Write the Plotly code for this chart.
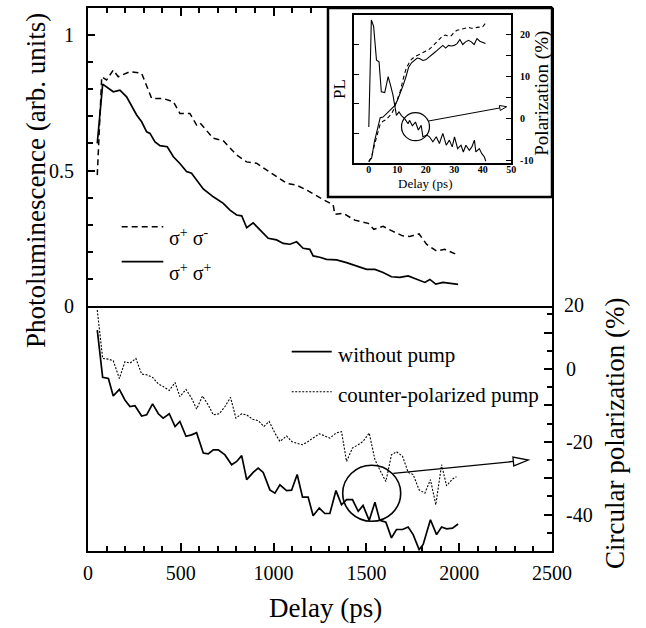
import math
import plotly.graph_objects as go

# ---------------- data ----------------
# top panel: photoluminescence (arb. units) vs delay (ps)
pl_cross_t = [50, 74, 100, 136, 163, 226, 289, 343, 405, 460, 495, 549, 585, 603, 675, 729,
              801, 855, 908, 962, 1016, 1070, 1124, 1178, 1249, 1285, 1321, 1330, 1375, 1438,
              1474, 1510, 1540, 1590, 1635, 1695, 1734, 1784, 1824, 1878, 1922, 1976, 1994]
pl_cross_v = [0.483, 0.846, 0.834, 0.871, 0.846, 0.865, 0.859, 0.766, 0.766, 0.754, 0.711, 0.711,
              0.668, 0.676, 0.619, 0.610, 0.557, 0.532, 0.527, 0.502, 0.477, 0.453, 0.446, 0.428,
              0.400, 0.385, 0.373, 0.338, 0.342, 0.317, 0.312, 0.305, 0.283, 0.294, 0.278, 0.259,
              0.257, 0.266, 0.228, 0.203, 0.209, 0.192, 0.188]

pl_co_t = [50, 79, 136, 172, 208, 235, 262, 289, 316, 334, 361, 388, 427, 460, 495, 531, 558,
           585, 621, 675, 729, 765, 801, 828, 855, 890, 926, 971, 1016, 1052, 1088, 1124, 1159,
           1195, 1213, 1249, 1285, 1339, 1393, 1447, 1501, 1546, 1590, 1635, 1680, 1725, 1770,
           1815, 1842, 1874, 1913, 1949, 1994]
pl_co_v = [0.60, 0.819, 0.791, 0.797, 0.772, 0.738, 0.705, 0.680, 0.643, 0.637, 0.606, 0.592,
           0.588, 0.551, 0.526, 0.496, 0.490, 0.465, 0.432, 0.403, 0.379, 0.354, 0.336, 0.333,
           0.289, 0.307, 0.280, 0.250, 0.244, 0.231, 0.228, 0.237, 0.213, 0.209, 0.185, 0.180,
           0.172, 0.170, 0.160, 0.148, 0.135, 0.135, 0.124, 0.108, 0.106, 0.111, 0.098, 0.087,
           0.098, 0.081, 0.087, 0.084, 0.080]

# bottom panel: circular polarization (%) vs delay (ps)
pol_nopump_t = [50, 79, 110, 136, 169, 199, 226, 253, 289, 316, 348, 379, 405, 438, 469, 495,
                528, 558, 585, 621, 648, 675, 702, 738, 774, 801, 828, 855, 890, 917, 944, 980,
                1007, 1034, 1070, 1097, 1127, 1156, 1186, 1213, 1246, 1276, 1303, 1336, 1366,
                1393, 1425, 1456, 1482, 1515, 1546, 1572, 1605, 1635, 1662, 1695, 1725, 1752,
                1784, 1806, 1845, 1878, 1905, 1932, 1964, 1994]
pol_nopump_v = [10.7, -2.3, -2.6, -7.4, -5.6, -8.5, -10.3, -10.1, -12.9, -12.6, -9.6, -12.3,
                -13.5, -12.3, -15.8, -14.4, -18.5, -18.1, -17.5, -23.1, -23.3, -22.2, -22.2,
                -23.6, -26.3, -25.4, -23.8, -30.4, -28.4, -27.2, -28.4, -33.2, -34.1, -31.8,
                -33.4, -33.3, -29.0, -35.2, -35.2, -40.3, -38.2, -39.7, -39.7, -33.4, -37.3,
                -35.9, -35.9, -39.1, -37.5, -41.6, -36.6, -41.6, -42.1, -46.4, -44.1, -44.1,
                -43.4, -45.5, -49.6, -48.2, -41.4, -45.5, -43.4, -43.9, -43.7, -42.6]

pol_counter_t = [50, 79, 110, 136, 169, 199, 226, 258, 289, 316, 348, 379, 405, 438, 469, 495,
                 528, 558, 585, 617, 648, 675, 707, 738, 768, 797, 828, 855, 887, 917, 948, 976,
                 1007, 1034, 1070, 1097, 1124, 1156, 1186, 1213, 1246, 1276, 1303, 1336, 1366,
                 1393, 1425, 1456, 1482, 1515, 1546, 1572, 1605, 1635, 1662, 1695, 1725, 1752,
                 1784, 1815, 1845, 1874, 1905, 1932, 1964, 1985]
pol_counter_v = [16.2, 2.9, 2.7, 2.3, -2.6, 2.0, 1.6, 2.9, -1.4, -1.6, -2.3, -4.1, -4.8, -5.9,
                 -3.7, -7.6, -5.6, -8.0, -11.0, -7.4, -9.9, -12.6, -12.3, -10.3, -7.8, -13.5,
                 -12.3, -12.6, -13.8, -14.2, -15.8, -14.4, -17.6, -19.9, -18.4, -19.9, -20.4,
                 -20.8, -19.9, -19.0, -17.8, -18.4, -19.0, -17.6, -17.2, -25.4, -21.7, -20.8,
                 -19.9, -17.6, -24.9, -27.7, -30.9, -23.6, -22.7, -24.0, -28.4, -29.0, -33.2,
                 -34.1, -30.4, -37.3, -26.3, -32.1, -30.2, -29.6]

# inset: PL (left axis) and polarization (right axis) vs delay (ps)
ins_pl_t = list(range(0, 42))
ins_pl_co = [0.03, 0.15, 0.72, 1.18, 1.52, 1.54, 1.63, 1.71, 1.80, 1.92, 2.09, 2.32, 2.60, 2.89,
             3.23, 3.38, 3.46, 3.54, 3.52, 3.46, 3.48, 3.55, 3.63, 3.72, 3.80, 3.88, 3.97, 3.88,
             3.97, 3.95, 3.97, 4.03, 4.17, 4.00, 4.09, 4.14, 4.09, 4.00, 4.20, 4.11, 4.06, 4.03]
ins_pl_cross = [0.03, 0.20, 0.60, 1.00, 1.30, 1.40, 1.45, 1.55, 1.65, 1.85, 2.10, 2.40, 2.80,
                3.15, 3.35, 3.50, 3.58, 3.63, 3.68, 3.72, 3.76, 3.82, 3.90, 4.00, 4.10, 4.20,
                4.30, 4.32, 4.28, 4.30, 4.42, 4.48, 4.50, 4.52, 4.55, 4.58, 4.55, 4.55, 4.58,
                4.58, 4.60, 4.72]
ins_pol_t = [0, 0.9, 1.7, 2.7, 3.6, 4.4, 5.6, 6.8, 7.6, 8.5, 9.7, 10.6, 11.4, 12.6, 13.8, 14.3,
             15.3, 16.4, 17.4, 18.4, 19.0, 20.4, 21.3, 22.5, 23.7, 24.8, 26.0, 27.2, 28.3, 29.3,
             30.1, 31.2, 32.4, 33.2, 34.1, 35.3, 36.2, 37.1, 37.6, 38.8, 39.7, 40.6, 41.1]
ins_pol_v = [-2.0, 23.4, 21.9, 13.9, 13.5, 6.4, 6.2, 10.0, 8.0, 5.6, 0.8, 1.6, 0.8, 0.0, -1.2,
             -0.4, -1.7, -0.8, -2.7, -1.6, -4.3, -3.9, -4.3, -5.5, -4.3, -5.9, -3.5, -6.3, -5.1,
             -6.7, -4.3, -7.1, -6.3, -7.9, -6.3, -7.5, -6.7, -5.1, -7.9, -7.1, -8.3, -9.1, -10.1]

# tick labels
x_ticks = [0, 500, 1000, 1500, 2000, 2500]
x_ticklabels = ["0", "500", "1000", "1500", "2000", "2500"]
pl_ticks = [0, 0.5, 1]
pl_ticklabels = ["0", "0.5", "1"]
pol_ticks = [-40, -30, -20, -10, 0, 10, 20, 30, 40]
pol_ticklabels = ["-40", "", "-20", "", "0", "", "", "", ""]
ins_x_ticks = [0, 10, 20, 30, 40, 50]
ins_pol_ticks = [-10, -5, 0, 5, 10, 15, 20]
ins_pol_ticklabels = ["-10", "", "0", "", "10", "", "20"]

# ---------------- layout helpers ----------------
W, H = 646, 628
FONT = "Liberation Serif, Times New Roman, serif"


def px(x):
    return x / W


def py(y):
    return 1 - y / H


L, R, T, B, MID = 88, 552, 8, 551, 306
IL, IR, IT, IB = 353.7, 511.3, 15, 162.5
POL_PX = 3.64  # pixels per percent on the main right axis

fig = go.Figure()

blk = "black"
fig.add_trace(go.Scatter(x=pl_cross_t, y=pl_cross_v, xaxis="x2", yaxis="y", mode="lines",
                         line=dict(color=blk, width=1.5, dash="6px,4px")))
fig.add_trace(go.Scatter(x=pl_co_t, y=pl_co_v, xaxis="x2", yaxis="y", mode="lines",
                         line=dict(color=blk, width=1.7)))
fig.add_trace(go.Scatter(x=pol_counter_t, y=pol_counter_v, xaxis="x", yaxis="y2", mode="lines",
                         line=dict(color=blk, width=1.1, dash="2px,1.5px")))
fig.add_trace(go.Scatter(x=pol_nopump_t, y=pol_nopump_v, xaxis="x", yaxis="y2", mode="lines",
                         line=dict(color=blk, width=1.7)))
fig.add_trace(go.Scatter(x=ins_pl_t, y=ins_pl_cross, xaxis="x3", yaxis="y3", mode="lines",
                         line=dict(color=blk, width=1.1, dash="4px,3px")))
fig.add_trace(go.Scatter(x=ins_pl_t, y=ins_pl_co, xaxis="x3", yaxis="y3", mode="lines",
                         line=dict(color=blk, width=1.1)))
fig.add_trace(go.Scatter(x=ins_pol_t, y=ins_pol_v, xaxis="x3", yaxis="y4", mode="lines",
                         line=dict(color=blk, width=1.1)))

tickfont = dict(family=FONT, size=20, color=blk)
ins_tickfont = dict(family=FONT, size=10, color=blk, weight="bold")

minor_x_top = [v for v in range(100, 1300, 100) if v % 500]
minor_x_bot = [v for v in range(100, 2500, 100) if v % 500]
minor_pl = [round(0.1 * k, 1) for k in range(1, 11) if k not in (5, 10)]
minor_pol = list(range(-45, 20, 10))

fig.update_layout(
    width=W, height=H, margin=dict(l=0, r=0, t=0, b=0, pad=0, autoexpand=False),
    paper_bgcolor="white", plot_bgcolor="white", showlegend=False,
    font=dict(family=FONT, color=blk),
    xaxis=dict(domain=[px(L), px(R)], range=[0, 2500], anchor="y2", side="bottom",
               automargin=False,
               showline=True, linecolor=blk, linewidth=2, showgrid=False, zeroline=False,
               tickmode="array", tickvals=x_ticks, ticktext=x_ticklabels,
               ticks="inside", ticklen=8, tickwidth=1.5, tickcolor=blk, tickfont=tickfont,
               ticklabelstandoff=3,
               minor=dict(tickvals=minor_x_bot, ticks="inside", ticklen=5, tickwidth=1.5,
                          tickcolor=blk, showgrid=False)),
    xaxis2=dict(domain=[px(L), px(R)], range=[0, 2500], anchor="y", side="top",
                automargin=False,
                showline=True, mirror=True, linecolor=blk, linewidth=2, showgrid=False,
                zeroline=False, showticklabels=False,
                tickmode="array", tickvals=[500, 1000], ticks="inside", ticklen=8,
                tickwidth=1.5, tickcolor=blk,
                minor=dict(tickvals=minor_x_top, ticks="inside", ticklen=5, tickwidth=1.5,
                           tickcolor=blk, showgrid=False)),
    yaxis=dict(domain=[py(MID), py(T)], range=[0, 1.1], anchor="x2", side="left",
               automargin=False,
               showline=True, linecolor=blk, linewidth=2, showgrid=False, zeroline=False,
               tickmode="array", tickvals=pl_ticks, ticktext=pl_ticklabels,
               ticks="inside", ticklen=7, tickwidth=1.5, tickcolor=blk, tickfont=tickfont,
               ticklabelstandoff=8,
               minor=dict(tickvals=minor_pl, ticks="inside", ticklen=5, tickwidth=1.5,
                          tickcolor=blk, showgrid=False)),
    yaxis2=dict(domain=[py(B), py(T)], range=[-50, -50 + (B - T) / POL_PX], anchor="x",
                side="right", automargin=False,
                showline=True, mirror=True, linecolor=blk, linewidth=2,
                showgrid=False, zeroline=False,
                tickmode="array", tickvals=pol_ticks, ticktext=pol_ticklabels,
                ticks="inside", ticklen=8, tickwidth=1.5, tickcolor=blk, tickfont=tickfont,
                ticklabelstandoff=8,
                minor=dict(tickvals=minor_pol, ticks="inside", ticklen=5, tickwidth=1.5,
                           tickcolor=blk, showgrid=False)),
    xaxis3=dict(domain=[px(IL), px(IR)], range=[-5.3, 50.05], anchor="y3", automargin=False,
                showline=True, mirror=True, linecolor=blk, linewidth=1.5, showgrid=False,
                zeroline=False, tickmode="array", tickvals=ins_x_ticks, ticks="",
                tickfont=ins_tickfont, ticklabelstandoff=-3),
    yaxis3=dict(domain=[py(IB), py(IT)], range=[0, 5], anchor="x3", automargin=False,
                showline=True, mirror=True, linecolor=blk, linewidth=1.5, showgrid=False,
                zeroline=False, tickmode="array", tickvals=[1, 2, 3, 4], ticks="inside",
                ticklen=6, tickwidth=1.2, tickcolor=blk, showticklabels=False),
    yaxis4=dict(overlaying="y3", anchor="x3", side="right", range=[-10.4, 24.6],
                automargin=False,
                showline=True, linecolor=blk, linewidth=1.5, showgrid=False, zeroline=False,
                tickmode="array", tickvals=ins_pol_ticks, ticktext=ins_pol_ticklabels,
                ticks="inside", ticklen=6, tickwidth=1.2, tickcolor=blk,
                tickfont=ins_tickfont, ticklabelstandoff=5),
)

shapes = []
annos = []

# inset frame
shapes.append(dict(type="rect", xref="paper", yref="paper", x0=px(328), x1=px(552),
                   y0=py(197), y1=py(8), line=dict(color=blk, width=2.5), layer="above"))


def arrow(x0, y0, x1, y1, head_len, head_half, width):
    dx, dy = x1 - x0, y1 - y0
    n = math.hypot(dx, dy)
    ux, uy = dx / n, dy / n
    bx, by = x1 - ux * head_len, y1 - uy * head_len
    pxp, pyp = -uy * head_half, ux * head_half
    out = [dict(type="line", xref="paper", yref="paper", x0=px(x0), y0=py(y0),
                x1=px(bx), y1=py(by), line=dict(color=blk, width=width))]
    path = "M {:.5f},{:.5f} L {:.5f},{:.5f} L {:.5f},{:.5f} Z".format(
        px(bx + pxp), py(by + pyp), px(x1), py(y1), px(bx - pxp), py(by - pyp))
    out.append(dict(type="path", xref="paper", yref="paper", path=path,
                    fillcolor="white", line=dict(color=blk, width=width)))
    return out


# main circle + arrow
shapes.append(dict(type="circle", xref="paper", yref="paper", x0=px(342.7), x1=px(400.7),
                   y0=py(521.3), y1=py(465.3), line=dict(color=blk, width=1.6)))
shapes += arrow(393.3, 473.3, 528.3, 460.0, 15, 4.5, 1.3)

# inset circle + arrow
shapes.append(dict(type="circle", xref="paper", yref="paper", x0=px(401.5), x1=px(429.5),
                   y0=py(140.7), y1=py(112.7), line=dict(color=blk, width=1.2)))
shapes += arrow(428.5, 121.0, 506.7, 106.7, 7, 2.5, 1.0)

# legends
shapes.append(dict(type="line", xref="paper", yref="paper", x0=px(121.7), x1=px(163.3),
                   y0=py(226.7), y1=py(226.7), line=dict(color=blk, width=1.5, dash="6px,4px")))
shapes.append(dict(type="line", xref="paper", yref="paper", x0=px(121.7), x1=px(163.3),
                   y0=py(261.7), y1=py(261.7), line=dict(color=blk, width=1.7)))
shapes.append(dict(type="line", xref="paper", yref="paper", x0=px(291.7), x1=px(331.7),
                   y0=py(351.7), y1=py(351.7), line=dict(color=blk, width=1.7)))
shapes.append(dict(type="line", xref="paper", yref="paper", x0=px(291.7), x1=px(331.7),
                   y0=py(391.7), y1=py(391.7), line=dict(color=blk, width=1.1, dash="2px,1.5px")))


def text(x, y, s, size, angle=0, xanchor="center", yanchor="middle", weight="normal"):
    annos.append(dict(xref="paper", yref="paper", x=px(x), y=py(y), text=s, showarrow=False,
                      textangle=angle, xanchor=xanchor, yanchor=yanchor,
                      font=dict(family=FONT, size=size, color=blk, weight=weight)))


text(167, 237, "σ<sup>+</sup> σ<sup>-</sup>", 20, xanchor="left")
text(167, 272, "σ<sup>+</sup> σ<sup>+</sup>", 20, xanchor="left")
text(336, 355, "without pump", 21, xanchor="left")
text(336, 395, "counter-polarized pump", 21, xanchor="left")

text(36, 181, "Photoluminescence (arb. units)", 27, angle=-90)
text(615, 434, "Circular polarization (%)", 27, angle=-90)
text(325, 608, "Delay (ps)", 27)
text(562, 305, "20", 20, xanchor="left")

text(339, 89, "PL", 17, angle=-90)
text(425.7, 183, "Delay (ps)", 13)
text(541.7, 93, "Polarization (%)", 19, angle=-90)

fig.update_layout(shapes=shapes, annotations=annos)
# the page's default 8 px body margin would push the 646x628 figure out of the window
fig.write_html("out.html", config={"displayModeBar": False},
               post_script="document.body.style.margin='0';document.body.style.overflow='hidden';")
